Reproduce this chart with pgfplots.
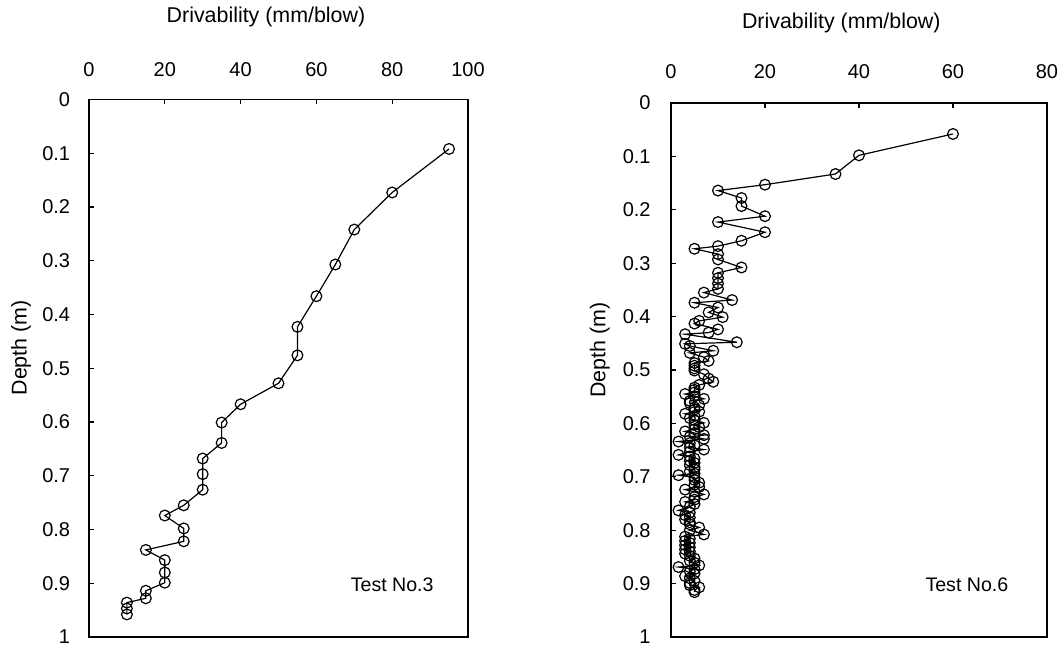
\documentclass[border=0pt]{standalone}
\usepackage{pgfplots}
\pgfplotsset{compat=1.18}
\usepackage{fontspec}
\setmainfont{Liberation Sans}

\pgfplotstableread{
x y
95 0.092
80 0.173
70 0.242
65 0.307
60 0.366
55 0.423
55 0.476
50 0.528
40 0.567
35 0.601
35 0.639
30 0.668
30 0.697
30 0.726
25 0.755
20 0.774
25 0.798
25 0.822
15 0.838
20 0.857
20 0.880
20 0.899
15 0.914
15 0.928
10 0.936
10 0.947
10 0.958
}\testthree

\pgfplotstableread{
x y
60 0.058
40 0.098
35 0.133
20 0.153
10 0.164
15 0.178
15 0.193
20 0.212
10 0.223
20 0.242
15 0.258
10 0.268
5 0.273
10 0.283
10 0.293
15 0.308
10 0.318
10 0.328
10 0.338
10 0.348
7 0.355
13 0.369
5 0.374
10 0.383
8 0.392
11 0.401
6 0.408
5 0.413
10 0.424
8 0.430
3 0.433
14 0.448
3 0.451
4 0.455
9 0.464
4 0.468
7 0.476
8 0.483
5 0.487
5 0.492
5 0.497
5 0.501
7 0.508
8 0.516
9 0.522
6 0.528
5 0.533
5 0.537
5 0.542
3 0.545
5 0.549
7 0.554
4 0.558
4 0.562
6 0.566
5 0.570
5 0.574
6 0.578
3 0.582
5 0.586
4 0.590
5 0.594
7 0.599
5 0.603
6 0.607
5 0.611
3 0.615
5 0.618
7 0.622
4 0.625
7 0.629
1.6 0.634
4 0.637
5 0.641
4 0.645
7 0.649
4 0.653
1.6 0.659
4 0.662
5 0.666
4 0.670
5 0.674
4 0.678
5 0.682
5 0.686
4 0.690
5 0.694
1.6 0.697
5 0.701
5 0.706
6 0.711
5 0.715
6 0.719
3 0.724
5 0.728
7 0.733
5 0.738
5 0.743
3 0.747
5 0.751
4 0.756
1.6 0.763
4 0.767
3 0.772
4 0.776
3 0.780
4 0.785
4 0.789
6 0.795
4 0.800
7 0.808
3 0.812
4 0.816
3 0.820
4 0.824
3 0.828
4 0.832
3 0.836
4 0.840
3 0.844
4 0.848
5 0.853
4 0.857
5 0.861
6 0.866
1.6 0.869
5 0.873
4 0.877
5 0.881
3 0.886
4 0.890
5 0.895
4 0.899
4 0.903
6 0.907
5 0.912
5 0.916
}\testsix

\pgfplotsset{
  myax/.style={
    scale only axis,
    y dir=reverse,
    ymin=0, ymax=1,
    ytick={0,0.1,0.2,0.3,0.4,0.5,0.6,0.7,0.8,0.9,1},
    yticklabels={0,0.1,0.2,0.3,0.4,0.5,0.6,0.7,0.8,0.9,1},
    axis line style={line width=0.9pt},
    tick align=inside,
    xtick pos=right, ytick pos=left,
    xticklabel pos=right,
    major tick length=2.5pt,
    tick style={line width=0.6pt, black},
    every tick label/.append style={font=\fontsize{10}{12}\selectfont},
    /pgf/number format/assume math mode=true,
    clip=false,
    xlabel={Drivability (mm/blow)},
    ylabel={Depth (m)},
    label style={font=\fontsize{10.7}{12}\selectfont},
  },
  myplot/.style={black, line width=0.6pt, mark=o, mark size=2.7pt,
    mark options={line width=0.6pt, fill=none}},
}

\begin{document}
\begin{tikzpicture}[x=1pt,y=1pt]
\useasboundingbox (0,0) rectangle (531,323);

\begin{axis}[myax,
  at={(44.5pt,4.5pt)}, anchor=south west,
  width=189.5pt, height=268.75pt,
  xmin=0, xmax=100, xtick={0,20,40,60,80,100},
  yticklabel style={anchor=east, inner sep=0pt, xshift=-9.25pt},
  xticklabel style={anchor=south, inner sep=0pt, yshift=11pt},
  xlabel style={at={(axis description cs:0.467,1.143)}, anchor=base},
  ylabel style={at={(axis description cs:-0.179,0.538)}, anchor=center},
]
\addplot[myplot] table[x=x,y=y] {\testthree};
\node[font=\fontsize{9.8}{11}\selectfont] at (axis description cs:0.80,0.097) {Test No.3};
\end{axis}

\begin{axis}[myax,
  at={(335.5pt,4.5pt)}, anchor=south west,
  width=188pt, height=267pt,
  xmin=0, xmax=80, xtick={0,20,40,60,80},
  yticklabel style={anchor=east, inner sep=0pt, xshift=-10pt},
  xticklabel style={anchor=south, inner sep=0pt, yshift=12pt},
  xlabel style={at={(axis description cs:0.453,1.140)}, anchor=base},
  ylabel style={at={(axis description cs:-0.189,0.537)}, anchor=center},
]
\addplot[myplot] table[x=x,y=y] {\testsix};
\node[font=\fontsize{9.8}{11}\selectfont] at (axis description cs:0.787,0.097) {Test No.6};
\end{axis}
\end{tikzpicture}
\end{document}
